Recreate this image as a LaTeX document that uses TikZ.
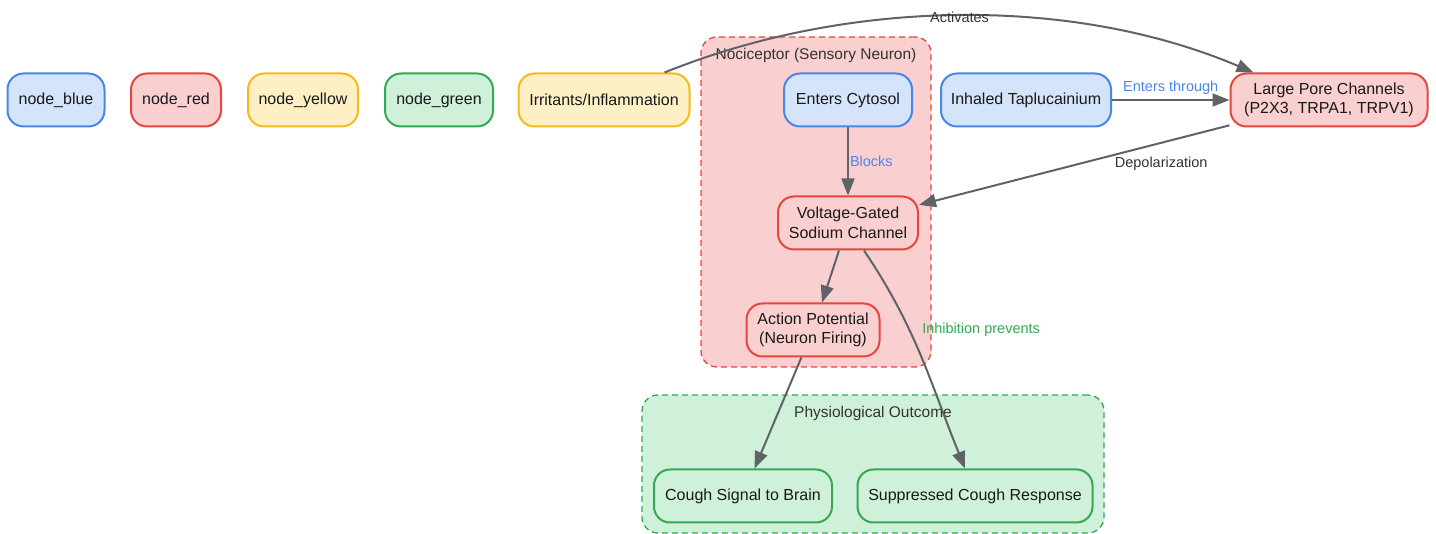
\documentclass[tikz,border=0pt]{standalone}
\usepackage{fontspec}
\setmainfont{Liberation Sans}
\usetikzlibrary{arrows.meta,positioning}

\definecolor{bluefill}{HTML}{D3E4FB}
\definecolor{bluedraw}{HTML}{4A86E8}
\definecolor{redfill}{HTML}{F9D0CF}
\definecolor{reddraw}{HTML}{E8453C}
\definecolor{yellowfill}{HTML}{FDF0C4}
\definecolor{yellowdraw}{HTML}{F6BB1A}
\definecolor{greenfill}{HTML}{CFF0D9}
\definecolor{greendraw}{HTML}{34A853}
\definecolor{edgegray}{HTML}{5F6368}
\definecolor{labeltext}{HTML}{333333}

\begin{document}
\begin{tikzpicture}[
		x=1pt, y=-1pt,
		box/.style={rectangle, rounded corners=16pt, line width=2pt, minimum height=53pt,
			align=center, text=black!90, font=\fontsize{16}{19.5}\selectfont},
		nblue/.style={box, draw=bluedraw, fill=bluefill},
		nred/.style={box, draw=reddraw, fill=redfill},
		nyellow/.style={box, draw=yellowdraw, fill=yellowfill},
		ngreen/.style={box, draw=greendraw, fill=greenfill},
		cluster/.style={rectangle, rounded corners=16pt, dashed, line width=1.3pt, dash pattern=on 6pt off 4pt},
		cluslabel/.style={text=labeltext, font=\fontsize{15.5}{18}\selectfont},
		elabel/.style={text=labeltext, font=\fontsize{14.5}{17}\selectfont, inner sep=2pt},
		arrow/.style={draw=edgegray, line width=2pt, ->},
		>={Triangle[length=17pt,width=13pt]}
		]
		\useasboundingbox (0,0) rectangle (1436,534);
		
		% Les groupes
		\node[cluster, draw=reddraw, fill=redfill, minimum width=230pt, minimum height=330pt] (noci) at (816,202) {};
		\node[cluslabel, below=8pt of noci.north] (nocilabel) {Nociceptor (Sensory Neuron)};
		\node[cluster, draw=greendraw, fill=greenfill, minimum width=462pt, minimum height=138pt] (outcome) at (873,464) {};
		\node[cluslabel, below=8pt of outcome.north] (outlabel) {Physiological Outcome};
		
		% La legende
		\node[nblue, minimum width=97pt] (lblue) at (56,100) {node\_blue};
		\node[nred, minimum width=90pt] (lred) at (176,100) {node\_red};
		\node[nyellow, minimum width=110pt] (lyellow) at (303,100) {node\_yellow};
		\node[ngreen, minimum width=108pt] (lgreen) at (439,100) {node\_green};
		
		% Les sommets
		\node[nyellow, minimum width=171pt] (irritants) at (604,100) {Irritants/Inflammation};
		\node[nblue, minimum width=128pt] (cytosol) at (848,100) {Enters Cytosol};
		\node[nblue, minimum width=170pt] (inhaled) at (1026,100) {Inhaled Taplucainium};
		\node[nred, minimum width=197pt] (pore) at (1329,100) {Large Pore Channels\\(P2X3, TRPA1, TRPV1)};
		\node[nred, minimum width=140pt] (sodium) at (848,223) {Voltage-Gated\\Sodium Channel};
		\node[nred, minimum width=133pt] (action) at (813,330) {Action Potential\\(Neuron Firing)};
		\node[ngreen, minimum width=178pt] (cough) at (743,496) {Cough Signal to Brain};
		\node[ngreen, minimum width=235pt] (suppressed) at (975,496) {Suppressed Cough Response};
		
		% Les aretes orientees
		\draw[arrow] ([xshift=-26pt]irritants.north east) to[out=22, in=157, looseness=0.86]
			node[elabel, pos=0.5, yshift=-2pt] {Activates} ([xshift=24pt]pore.north west);
		\draw[arrow] (inhaled) to node[elabel, midway, above, inner sep=4pt, text=bluedraw] {Enters through} (pore);
		\draw[arrow] (pore) to node[elabel, pos=0.22, below=11pt] {Depolarization} (sodium);
		\draw[arrow] (cytosol) to node[elabel, midway, right, inner sep=1pt, text=bluedraw] {Blocks} (sodium);
		\draw[arrow] (sodium) to (action);
		\draw[arrow] ([xshift=16pt]sodium.south) to[out=-56, in=112]
			node[elabel, pos=0.37, right=10pt, text=greendraw] {Inhibition prevents} ([xshift=-10pt]suppressed.north);
		\draw[arrow] (action) to (cough);
	\end{tikzpicture}
\end{document}
